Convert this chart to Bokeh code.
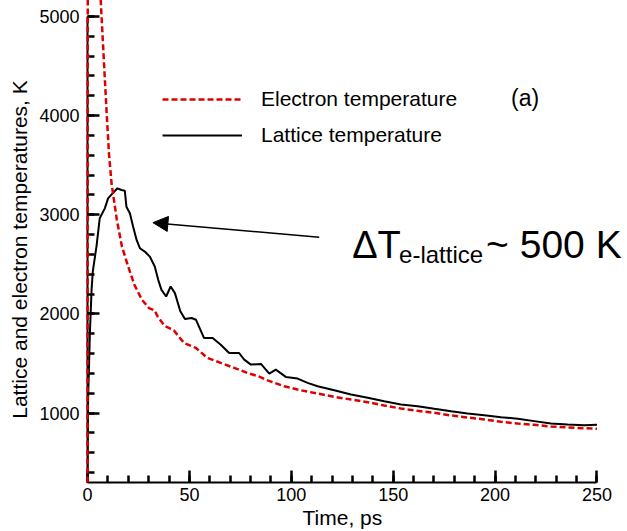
from bokeh.plotting import figure
from bokeh.models import (Range1d, SingleIntervalTicker, Legend, LegendItem,
                          Label, Arrow, NormalHead, Title)
from bokeh.embed import file_html
from bokeh.resources import INLINE

# ---- data ----
lat_t = [0, 0.3, 1.2, 2.0, 2.6, 4.4, 6.0, 8.5, 10.1, 12.6, 14.7, 16.7, 18.3, 19.1,
         20.8, 22.4, 24.1, 25.7, 28.1, 30.6, 33.0, 34.7, 36.3, 38.6, 40.8, 42.9,
         45.5, 47.8, 51.1, 53.2, 57.2, 61.4, 65.4, 69.5, 74.4, 76.9, 80.2, 85.1,
         89.2, 92.4, 97.3, 103.1, 108.0, 112.9, 121.1, 129.3, 137.5, 145.6, 153.8,
         162.0, 170.2, 178.4, 186.5, 194.7, 202.9, 211.1, 219.2, 227.4, 235.6,
         243.8, 250.0]
lat_T = [300, 1140, 1820, 2243, 2430, 2680, 2965, 3065, 3166, 3223, 3267, 3250,
         3243, 3082, 3015, 2880, 2746, 2663, 2629, 2578, 2478, 2344, 2243, 2176,
         2277, 2210, 2030, 1949, 1959, 1942, 1757, 1757, 1690, 1606, 1606, 1539,
         1489, 1496, 1398, 1439, 1365, 1348, 1305, 1271, 1230, 1187, 1154, 1120,
         1087, 1069, 1043, 1019, 996, 979, 959, 943, 919, 895, 885, 878, 882]

ele_t = [0, 0.2, 3.0, 6.4, 6.9, 8.2, 9.5, 10.6, 11.8, 14.4, 16.9, 19.7, 23.0, 26.7,
         30.2, 33.0, 34.4, 37.8, 42.3, 47.4, 53.2, 58.9, 65.4, 72.0, 78.5, 84.0,
         88.4, 96.5, 104.7, 112.9, 121.1, 129.3, 137.5, 145.6, 153.8, 162.0, 170.2,
         178.4, 186.5, 194.7, 202.9, 211.1, 219.2, 227.4, 235.6, 243.8, 250.0]
ele_T = [300, 8000, 7000, 5200, 5000, 4490, 3987, 3600, 3317, 2950, 2680, 2495,
         2295, 2143, 2059, 2035, 1975, 1880, 1836, 1707, 1657, 1556, 1506, 1456,
         1405, 1370, 1330, 1271, 1230, 1197, 1164, 1137, 1110, 1076, 1046, 1023,
         1003, 976, 956, 936, 912, 895, 882, 865, 855, 848, 842]

series_labels = ["Electron temperature", "Lattice temperature"]
x_title = "Time, ps"
y_title = "Lattice and electron temperatures, K"
panel_tag = "(a)"

X_MIN, X_MAX, X_VIEW = 0, 250, 264
Y_MIN, Y_MAX = 300, 5000

W, H = 627, 531
BL, BR, BT, BB = 87, 2, 16, 49

FONT = "Liberation Sans"

p = figure(width=W, height=H, output_backend="svg", toolbar_location=None,
           x_range=Range1d(X_MIN, X_VIEW), y_range=Range1d(Y_MIN, Y_MAX),
           min_border_left=BL, min_border_right=BR, min_border_top=BT,
           min_border_bottom=BB)
p.outline_line_color = None
p.xgrid.grid_line_color = None
p.ygrid.grid_line_color = None
p.background_fill_color = "white"
p.border_fill_color = "white"

p.xaxis.ticker = SingleIntervalTicker(interval=50, num_minor_ticks=5)
p.yaxis.ticker = SingleIntervalTicker(interval=1000, num_minor_ticks=5)
p.xaxis.bounds = (X_MIN, X_MAX)

for ax in (p.xaxis, p.yaxis):
    ax.axis_line_width = 2
    ax.axis_line_color = "black"
    ax.major_tick_in = 12
    ax.major_tick_out = 0
    ax.minor_tick_in = 7
    ax.minor_tick_out = 0
    ax.major_tick_line_color = "black"
    ax.minor_tick_line_color = "black"
    ax.major_tick_line_width = 2.5
    ax.minor_tick_line_width = 2.5
    ax.major_label_text_font = FONT
    ax.major_label_text_font_size = "18px"
    ax.major_label_text_color = "black"
    ax.axis_label_text_font = FONT
    ax.axis_label_text_font_size = "21px"
    ax.axis_label_text_font_style = "normal"
    ax.axis_label_text_color = "black"

p.yaxis.axis_label = y_title
p.xaxis.major_label_standoff = 5
p.yaxis.major_label_standoff = 8
p.yaxis.axis_label_standoff = 5

p.add_layout(Title(text=x_title, align="left", offset=215, standoff=0,
                   text_font=FONT, text_font_size="21px",
                   text_font_style="normal", text_color="black"), "below")

r_l = p.line(lat_t, lat_T, line_color="black", line_width=2)
r_e = p.line(ele_t, ele_T, line_color="#dd0000", line_width=2.5, line_dash="6 3")
r_e.level = "overlay"

legend = Legend(items=[LegendItem(label=series_labels[0], renderers=[r_e]),
                       LegendItem(label=series_labels[1], renderers=[r_l])],
                location=(75, 335), orientation="vertical",
                glyph_width=80, glyph_height=24, label_height=24, spacing=12,
                padding=0, margin=0, border_line_color=None,
                background_fill_alpha=0, label_standoff=19,
                label_text_font=FONT, label_text_font_size="21px",
                label_text_color="black")
p.add_layout(legend)

p.add_layout(Label(x=207.8, y=4175, text=panel_tag, text_font=FONT,
                   text_font_size="23px", text_baseline="alphabetic",
                   text_color="black"))

p.add_layout(Arrow(end=NormalHead(size=15, fill_color="black", line_color="black"),
                   x_start=113.7, y_start=2774, x_end=32.1, y_end=2921,
                   line_width=1.5, line_color="black"))

p.add_layout(Label(x=129.9, y=2700, text="ΔT", text_font=FONT,
                   text_font_size="38px", text_baseline="alphabetic",
                   text_color="black"))
p.add_layout(Label(x=152.9, y=2600, text="e-lattice", text_font=FONT,
                   text_font_size="24px", text_baseline="alphabetic",
                   text_color="black"))
p.add_layout(Label(x=195.6, y=2700, text="~ 500 K", text_font=FONT,
                   text_font_size="39px", text_baseline="alphabetic",
                   text_color="black"))

open("out.html", "w").write(file_html(p, INLINE))
